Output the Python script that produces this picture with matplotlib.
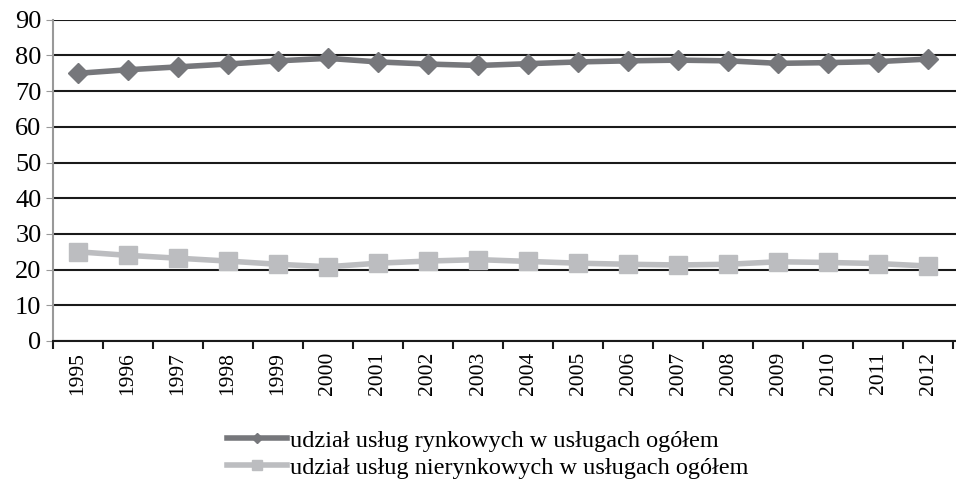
import numpy as np
import matplotlib.pyplot as plt
from matplotlib.ticker import FixedLocator

plt.rcParams['font.family'] = ['Liberation Serif', 'DejaVu Serif']

years = [str(y) for y in range(1995, 2013)]
rynkowe = [75.0, 76.0, 76.8, 77.6, 78.5, 79.2, 78.2, 77.6, 77.2, 77.7,
           78.2, 78.5, 78.7, 78.5, 77.8, 78.0, 78.3, 79.0]
nierynkowe = [25.0, 24.0, 23.2, 22.4, 21.5, 20.8, 21.8, 22.4, 22.8, 22.3,
              21.8, 21.5, 21.3, 21.5, 22.2, 22.0, 21.7, 21.0]

c_dark = '#76777b'
c_light = '#bcbdc0'

fig = plt.figure(figsize=(9.56, 4.83), dpi=100)
ax = fig.add_axes([0.055, 0.294, 0.945, 0.665])

x = np.arange(len(years))
ax.plot(x, rynkowe, color=c_dark, lw=4, marker='D', ms=10,
        label='udział usług rynkowych w usługach ogółem')
ax.plot(x, nierynkowe, color=c_light, lw=4, marker='s', ms=13,
        label='udział usług nierynkowych w usługach ogółem')

ax.set_xlim(-0.5, 17.55)
ax.set_ylim(0, 90)
ax.set_yticks(range(0, 91, 10))
ax.yaxis.grid(True, color='#1a1a1a', lw=1.5)
ax.set_axisbelow(True)

ax.set_xticks(x)
ax.set_xticklabels(years, rotation=90, fontsize=15.5)
ax.xaxis.set_minor_locator(FixedLocator(np.arange(-0.5, 18, 1)))
ax.tick_params(axis='x', which='major', length=0, pad=8)
ax.tick_params(axis='x', which='minor', length=6, width=1.5, color='#1a1a1a')
ax.tick_params(axis='y', labelsize=19, length=5, color='#999999', pad=3)

for s in ['top', 'right']:
    ax.spines[s].set_visible(False)
ax.spines['left'].set_color('#999999')
ax.spines['left'].set_linewidth(1.5)
ax.spines['bottom'].set_color('#1a1a1a')
ax.spines['bottom'].set_linewidth(1.5)

fig.legend(loc='lower center', bbox_to_anchor=(0.51, -0.036), frameon=False,
           fontsize=17.5, handlelength=2.5, handletextpad=0.1,
           labelspacing=0.2, markerscale=0.55)

fig.savefig('out.png', dpi=100)
